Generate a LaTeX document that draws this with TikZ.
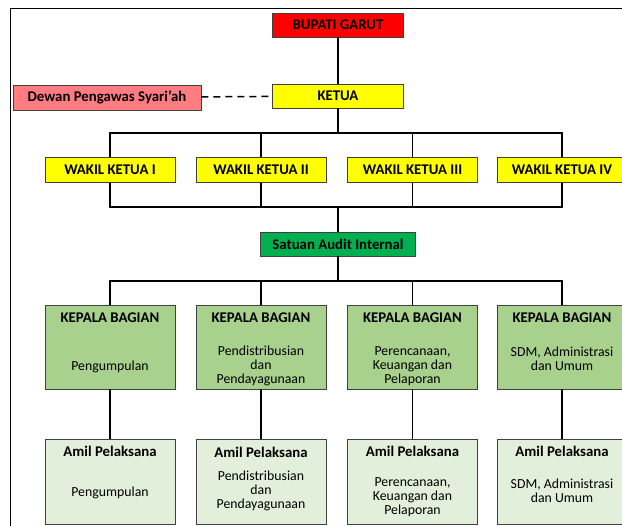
\documentclass[tikz,border=0pt]{standalone}
\usepackage{fontspec}
\setmainfont{Carlito}

\definecolor{bupatired}{HTML}{FF0000}
\definecolor{ketuayellow}{HTML}{FFFF00}
\definecolor{dewanpink}{HTML}{FF7C80}
\definecolor{auditgreen}{HTML}{00B050}
\definecolor{kepalagreen}{HTML}{A9D18E}
\definecolor{amilgreen}{HTML}{E2EFDA}

\begin{document}
\begin{tikzpicture}[x = 1pt, y = -1pt,
    box/.style = {draw = black!75, line width = 0.8pt, inner sep = 0pt,
        minimum width = 130pt, minimum height = 25pt},
    head/.style = {font = \fontsize{14.8}{17}\selectfont\bfseries, inner sep = 0pt},
    sub/.style = {font = \fontsize{13.8}{14}\selectfont, align = center, inner sep = 0pt},
    link/.style = {line width = 1.5pt, black}]

            \useasboundingbox (0,0) rectangle (622,526);
            \clip (0,0) rectangle (622,526);

            \draw [line width = 1.5pt] (10.5,8.5) rectangle (660,560);

            % upper part
            \node [box, fill = bupatired, minimum width = 131pt, minimum height = 24pt, head] (bupati) at (338,25) {BUPATI GARUT};
            \node [box, fill = ketuayellow, minimum width = 131pt, minimum height = 24pt, head] (ketua) at (338,96) {KETUA};
            \node [box, fill = dewanpink, minimum width = 188pt, head] (dewan) at (107,97.5) {Dewan Pengawas Syari’ah};

            \node [box, fill = ketuayellow, head] (wk1) at (110,170) {WAKIL KETUA I};
            \node [box, fill = ketuayellow, head] (wk2) at (261,170) {WAKIL KETUA II};
            \node [box, fill = ketuayellow, head] (wk3) at (412.5,170) {WAKIL KETUA III};
            \node [box, fill = ketuayellow, head] (wk4) at (562,170) {WAKIL KETUA IV};

            \node [box, fill = auditgreen, minimum width = 155pt, minimum height = 24pt, head] (sai) at (338,244) {Satuan Audit Internal};

            % kepala bagian
            \node [box, fill = kepalagreen, minimum height = 84pt] (kb1) at (110,347) {};
            \node [box, fill = kepalagreen, minimum height = 84pt] (kb2) at (261,347) {};
            \node [box, fill = kepalagreen, minimum height = 84pt] (kb3) at (412.5,347) {};
            \node [box, fill = kepalagreen, minimum height = 84pt] (kb4) at (562,347) {};

            \node [head, anchor = base] (kb1h) at (110,323) {KEPALA BAGIAN};
            \node [head, anchor = base] (kb2h) at (261,323) {KEPALA BAGIAN};
            \node [head, anchor = base] (kb3h) at (412.5,323) {KEPALA BAGIAN};
            \node [head, anchor = base] (kb4h) at (562,323) {KEPALA BAGIAN};

            \node [sub] (kb1t) at (110,367) {Pengumpulan};
            \node [sub] (kb2t) at (261,366) {Pendistribusian\\dan\\Pendayagunaan};
            \node [sub] (kb3t) at (412.5,366) {Perencanaan,\\Keuangan dan\\Pelaporan};
            \node [sub] (kb4t) at (562,359) {SDM, Administrasi\\dan Umum};

            % amil pelaksana
            \node [box, fill = amilgreen, minimum height = 85pt] (am1) at (110,481.5) {};
            \node [box, fill = amilgreen, minimum height = 85pt] (am2) at (261,481.5) {};
            \node [box, fill = amilgreen, minimum height = 85pt] (am3) at (412.5,481.5) {};
            \node [box, fill = amilgreen, minimum height = 85pt] (am4) at (562,481.5) {};

            \node [head, anchor = base] (am1h) at (110,457) {Amil Pelaksana};
            \node [head, anchor = base] (am2h) at (261,458) {Amil Pelaksana};
            \node [head, anchor = base] (am3h) at (412.5,457) {Amil Pelaksana};
            \node [head, anchor = base] (am4h) at (562,457) {Amil Pelaksana};

            \node [sub] (am1t) at (110,493) {Pengumpulan};
            \node [sub] (am2t) at (261,491) {Pendistribusian\\dan\\Pendayagunaan};
            \node [sub] (am3t) at (412.5,497) {Perencanaan,\\Keuangan dan\\Pelaporan};
            \node [sub] (am4t) at (562,491) {SDM, Administrasi\\dan Umum};

            % connectors
            \coordinate (busA) at (338,133);
            \coordinate (busB) at (338,207);
            \coordinate (busC) at (338,281);

            \draw [link] (bupati) -- (ketua);
            \draw [link, dash pattern = on 7pt off 5pt] (dewan) -- (ketua);

            \draw [link] (ketua) -- (busA);
            \draw [link] (wk1.north) |- (busA) -| (wk4.north);
            \draw [link] (wk2.north) -- (wk2.north |- busA);
            \draw [link] (wk3.north) -- (wk3.north |- busA);

            \draw [link] (wk1.south) |- (busB) -| (wk4.south);
            \draw [link] (wk2.south) -- (wk2.south |- busB);
            \draw [link] (wk3.south) -- (wk3.south |- busB);
            \draw [link] (busB) -- (sai);

            \draw [link] (sai) -- (busC);
            \draw [link] (kb1.north) |- (busC) -| (kb4.north);
            \draw [link] (kb2.north) -- (kb2.north |- busC);
            \draw [link] (kb3.north) -- (kb3.north |- busC);

            \draw [link] (kb1) -- (am1);
            \draw [link] (kb2) -- (am2);
            \draw [link] (kb3) -- (am3);
            \draw [link] (kb4) -- (am4);
        \end{tikzpicture}
\end{document}
